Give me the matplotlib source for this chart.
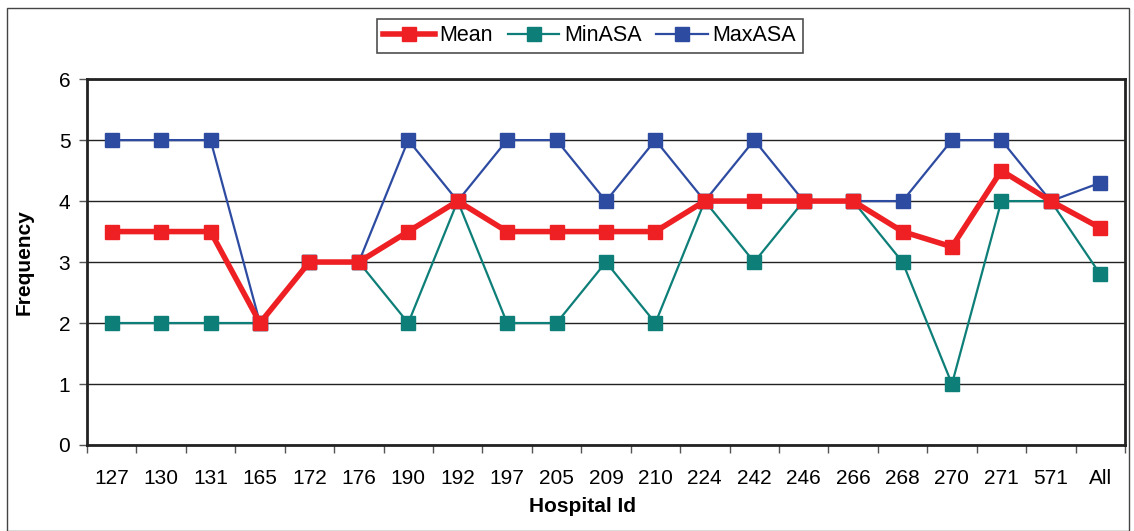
import numpy as np
import matplotlib.pyplot as plt
from matplotlib.patches import Rectangle

plt.rcParams['font.family'] = ['Liberation Sans', 'DejaVu Sans']

hospitals = ["127", "130", "131", "165", "172", "176", "190", "192", "197", "205",
             "209", "210", "224", "242", "246", "266", "268", "270", "271", "571", "All"]
mean_asa = [3.5, 3.5, 3.5, 2, 3, 3, 3.5, 4, 3.5, 3.5, 3.5, 3.5, 4, 4, 4, 4, 3.5, 3.25, 4.5, 4, 3.56]
min_asa = [2, 2, 2, 2, 3, 3, 2, 4, 2, 2, 3, 2, 4, 3, 4, 4, 3, 1, 4, 4, 2.8]
max_asa = [5, 5, 5, 2, 3, 3, 5, 4, 5, 5, 4, 5, 4, 5, 4, 4, 4, 5, 5, 4, 4.3]

RED = "#ee2024"
TEAL = "#0e7e78"
BLUE = "#2e4ba2"

fig = plt.figure(figsize=(11.34, 5.31), dpi=100)
fig.patches.append(Rectangle((0.006, 0.0), 0.99, 0.985, transform=fig.transFigure,
                             fill=False, edgecolor="#444444", linewidth=1.0))
ax = fig.add_axes([0.0767, 0.162, 0.9153, 0.689])

x = np.arange(len(hospitals))
ax.plot(x, mean_asa, color=RED, linewidth=4.0, marker="s", markersize=10,
        label="Mean", zorder=5)
ax.plot(x, min_asa, color=TEAL, linewidth=1.6, marker="s", markersize=10,
        label="MinASA", zorder=3)
ax.plot(x, max_asa, color=BLUE, linewidth=1.6, marker="s", markersize=10,
        label="MaxASA", zorder=4)

ax.set_xlim(-0.5, len(hospitals) - 0.5)
ax.set_ylim(0, 6)
ax.set_yticks(range(0, 7))
ax.set_xticks(x)
ax.set_xticklabels(hospitals)
ax.set_xticks(np.arange(-0.5, len(hospitals)), minor=True)
ax.tick_params(axis="x", which="major", length=0, pad=17, labelsize=15)
ax.tick_params(axis="x", which="minor", length=6, width=1, color="#555555")
ax.tick_params(axis="y", length=6, width=1, color="#555555", labelsize=15, pad=6)

ax.grid(True, axis="y", color="#222222", linewidth=1.0)
ax.set_axisbelow(True)
for s in ax.spines.values():
    s.set_linewidth(2.0)
    s.set_color("#222222")

ax.set_xlabel("Hospital Id", fontsize=15, fontweight="bold", va="center")
ax.xaxis.set_label_coords(0.477, -0.169)
ax.set_ylabel("Frequency", fontsize=15, fontweight="bold", labelpad=18)

leg = fig.legend(loc="center", bbox_to_anchor=(0.52, 0.933), ncol=3, fontsize=15.5,
                 frameon=True, fancybox=False, edgecolor="#222222",
                 handlelength=2.4, handletextpad=0.2, columnspacing=0.7,
                 borderpad=0.3)
leg.get_frame().set_linewidth(1.2)

fig.savefig("out.png", dpi=100)
